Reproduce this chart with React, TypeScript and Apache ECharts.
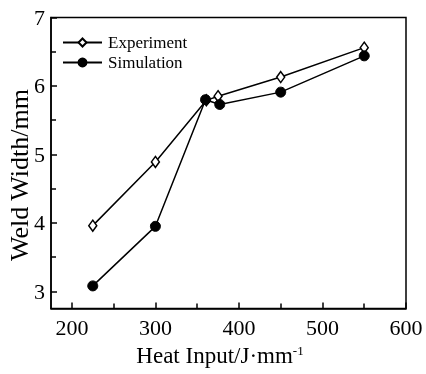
import React, { useEffect, useRef } from "react";
import * as echarts from "echarts";

const expX = [225, 300, 361, 375, 450, 550];
const expY = [3.96, 4.89, 5.79, 5.85, 6.13, 6.56];
const simX = [225, 300, 360, 377, 450, 550];
const simY = [3.08, 3.95, 5.8, 5.73, 5.91, 6.44];
const xMajor = [200, 300, 400, 500, 600];
const xMinor = [250, 350, 450, 550];
const yMajor = [3, 4, 5, 6, 7];
const yMinor = [3.5, 4.5, 5.5, 6.5];

const FONT = "'Liberation Serif', 'Times New Roman', serif";

export default function App() {
  const ref = useRef<HTMLDivElement>(null);
  useEffect(() => {
    const chart = echarts.init(ref.current!, null, { renderer: "svg" });
    const base = {
      type: "value" as const,
      axisLine: { show: true, onZero: false, lineStyle: { color: "#000", width: 1.5 } },
      splitLine: { show: false },
    };
    chart.setOption({
      animation: false,
      textStyle: { fontFamily: FONT, color: "#000" },
      grid: {
        left: 51, right: 20, top: 17.5, bottom: 65.5,
        containLabel: false, outerBoundsMode: "none",
        show: true, borderColor: "#000", borderWidth: 1.5, backgroundColor: "transparent",
      },
      legend: {
        left: 62,
        top: 34,
        padding: 0,
        orient: "vertical",
        itemWidth: 39,
        itemHeight: 10,
        itemGap: 3,
        textStyle: { fontFamily: FONT, fontSize: 17, color: "#000", padding: [0, 0, 0, 1] },
        data: ["Experiment", "Simulation"],
      },
      xAxis: [
        {
          ...base,
          min: 175,
          max: 600,
          position: "bottom",
          name: "{a|Heat Input/J·mm}{b|-1}",
          nameLocation: "middle",
          nameGap: 35,
          nameMoveOverlap: false,
          nameTextStyle: {
            padding: [0, 17, 0, 0],
            rich: {
              a: { fontFamily: FONT, fontSize: 23, color: "#000" },
              b: { fontFamily: FONT, fontSize: 13, color: "#000", verticalAlign: "top", padding: [0, 0, 8, 0] },
            },
          },
          axisTick: { show: true, inside: true, length: 6, customValues: xMajor, lineStyle: { color: "#000", width: 1.5 } },
          axisLabel: { customValues: xMajor, fontFamily: FONT, fontSize: 22, color: "#000", margin: 8 },
        },
        {
          ...base,
          min: 175,
          max: 600,
          position: "bottom",
          axisLine: { show: false },
          axisTick: { show: true, inside: true, length: 5, customValues: xMinor, lineStyle: { color: "#000", width: 1.5 } },
          axisLabel: { show: false },
        },
      ],
      yAxis: [
        {
          ...base,
          min: 2.75,
          max: 7,
          position: "left",
          name: "Weld Width/mm",
          nameLocation: "middle",
          nameGap: 19,
          nameMoveOverlap: false,
          nameTextStyle: { fontFamily: FONT, fontSize: 26, color: "#000", padding: [0, 24, 0, 0] },
          axisTick: { show: true, inside: true, length: 6, customValues: yMajor, lineStyle: { color: "#000", width: 1.5 } },
          axisLabel: { customValues: yMajor, fontFamily: FONT, fontSize: 22, color: "#000", margin: 6 },
        },
        {
          ...base,
          min: 2.75,
          max: 7,
          position: "left",
          axisLine: { show: false },
          axisTick: { show: true, inside: true, length: 5, customValues: yMinor, lineStyle: { color: "#000", width: 1.5 } },
          axisLabel: { show: false },
        },
      ],
      series: [
        {
          name: "Experiment",
          type: "line",
          data: expX.map((x, i) => [x, expY[i]]),
          symbol: "diamond",
          symbolSize: [8, 11],
          lineStyle: { color: "#000", width: 1.5 },
          itemStyle: { color: "#fff", borderColor: "#000", borderWidth: 1.5 },
          z: 3,
        },
        {
          name: "Simulation",
          type: "line",
          data: simX.map((x, i) => [x, simY[i]]),
          symbol: "circle",
          symbolSize: 10,
          lineStyle: { color: "#000", width: 1.5 },
          itemStyle: { color: "#000", borderColor: "#000", borderWidth: 1 },
          z: 4,
        },
      ],
    });
    return () => chart.dispose();
  }, []);
  return <div ref={ref} style={{ position: "fixed", left: 0, top: 0, width: 426, height: 374 }} />;
}
